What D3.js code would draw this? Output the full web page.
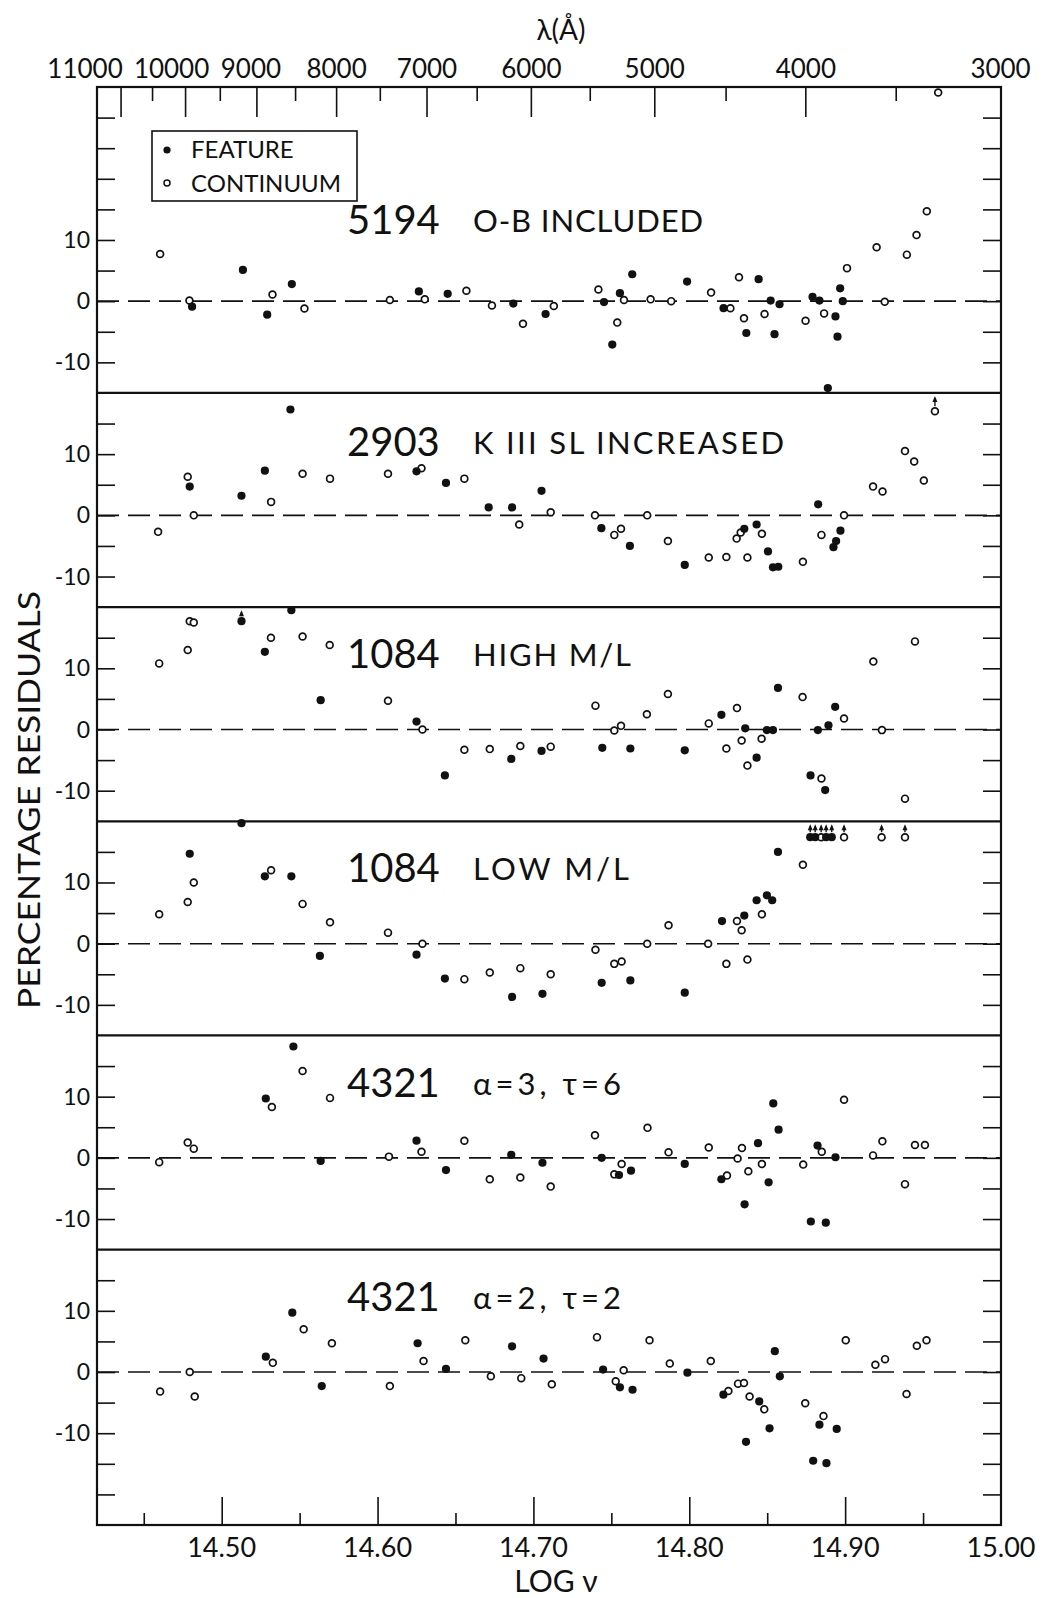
<!DOCTYPE html>
<html>
<head>
<meta charset="utf-8">
<script src="https://cdn.jsdelivr.net/npm/d3@7"></script>
<style>
  body { margin: 0; background: #fff; }
  svg text { font-family: "Lato", "Open Sans", "DejaVu Sans", sans-serif; fill: #111; }
</style>
</head>
<body>
<svg id="chart" width="1044" height="1598"></svg>
<script>
// Percentage residuals of the model fits, [log nu, residual %]
const feature5194 = [[14.481,-0.9],[14.5136,5.1],[14.5292,-2.2],[14.545,2.8],[14.6265,1.6],[14.645,1.2],[14.6871,-0.4],[14.7078,-2.1],
  [14.7453,-0.15],[14.7555,1.3],[14.7506,-7.1],[14.7634,4.4],[14.7986,3.2],[14.822,-1.15],[14.8366,-5.2],[14.8445,3.6],[14.8522,0.1],
  [14.8547,-5.4],[14.8579,-0.5],[14.8791,0.7],[14.8835,0.1],[14.8889,-14.2],[14.8938,-2.5],[14.8951,-5.8],[14.8968,2.1],[14.8985,0]];
const continuum5194 = [[14.4605,7.7],[14.4793,0.1],[14.5326,1.1],[14.5531,-1.2],[14.6079,0.2],[14.6303,0.3],[14.657,1.7],[14.6734,-0.7],
  [14.6933,-3.7],[14.7131,-0.8],[14.7417,1.9],[14.7581,0.2],[14.7538,-3.5],[14.7752,0.3],[14.7884,0],[14.814,1.4],[14.8264,-1.15],
  [14.8319,3.9],[14.8351,-2.8],[14.8483,-2.1],[14.8746,-3.2],[14.8865,-2.0],[14.9012,5.4],[14.9202,8.8],[14.9254,-0.1],[14.9396,7.6],
  [14.9458,10.8],[14.9524,14.7],[14.9597,34.1]];

const feature2903 = [[14.4795,4.7],[14.5127,3.2],[14.5277,7.3],[14.5441,17.3],[14.625,7.2],[14.6439,5.3],[14.6713,1.3],[14.6863,1.3],
  [14.7052,4.0],[14.7436,-2.1],[14.7619,-5.0],[14.7971,-8.1],[14.8353,-2.2],[14.8432,-1.5],[14.8505,-5.9],[14.8537,-8.5],[14.8571,-8.4],
  [14.8827,1.8],[14.8925,-5.2],[14.8942,-4.2],[14.897,-2.5]];
const continuum2903 = [[14.4592,-2.7],[14.4782,6.3],[14.4821,0],[14.5317,2.2],[14.5519,6.8],[14.5695,6.0],[14.6067,6.8],[14.6282,7.7],
  [14.6557,6.0],[14.6909,-1.5],[14.7111,0.5],[14.7395,0],[14.7519,-3.2],[14.7562,-2.2],[14.773,0],[14.7863,-4.2],[14.8125,-6.9],
  [14.8238,-6.8],[14.8304,-3.8],[14.833,-2.8],[14.8373,-6.9],[14.8466,-3.0],[14.8729,-7.6],[14.8848,-3.2],[14.8993,0],[14.9179,4.7],
  [14.924,3.9],[14.9384,10.5],[14.9443,8.8],[14.9505,5.7],[14.9576,17.0]];
const arrows2903 = [[14.9576,17.0]];

const featureHigh1084 = [[14.5127,17.7],[14.5277,12.7],[14.5447,19.5],[14.5635,4.8],[14.625,1.3],[14.6432,-7.5],[14.6858,-4.8],[14.7052,-3.5],
  [14.7442,-3.0],[14.7622,-3.1],[14.7971,-3.4],[14.8206,2.4],[14.8359,0.2],[14.8432,-4.6],[14.8498,-0.1],[14.8537,-0.1],[14.8569,6.8],
  [14.8778,-7.5],[14.8825,-0.1],[14.8872,-9.9],[14.8893,0.7],[14.8936,3.7]];
const continuumHigh1084 = [[14.4599,10.8],[14.4782,13.0],[14.4795,17.7],[14.4821,17.5],[14.5316,15.0],[14.5519,15.2],[14.5693,13.8],
  [14.6067,4.7],[14.6288,0],[14.6557,-3.3],[14.672,-3.2],[14.6916,-2.7],[14.7111,-2.8],[14.7398,3.9],[14.7519,-0.15],[14.7562,0.6],
  [14.7728,2.5],[14.7863,5.8],[14.8125,1.0],[14.8238,-3.1],[14.8306,3.5],[14.8336,-1.8],[14.8373,-5.9],[14.8464,-1.5],[14.8727,5.3],
  [14.8848,-8.0],[14.8993,1.8],[14.9181,11.1],[14.9236,-0.1],[14.9384,-11.3],[14.9448,14.4]];
const arrowsHigh1084 = [[14.5127,17.7]];

const featureLow1084 = [[14.4795,14.7],[14.5127,19.7],[14.5277,11.0],[14.5447,11.0],[14.563,-2.0],[14.625,-1.8],[14.6432,-5.7],[14.6863,-8.7],
  [14.7058,-8.2],[14.7438,-6.4],[14.7622,-6.0],[14.7971,-8.0],[14.821,3.7],[14.8353,4.6],[14.8432,7.1],[14.8498,7.9],[14.8532,7.1],
  [14.8569,15.0],[14.8776,17.4],[14.8808,17.4],[14.8878,17.4],[14.8914,17.4]];
const continuumLow1084 = [[14.4599,4.8],[14.4782,6.8],[14.4821,10.0],[14.5317,12.0],[14.5519,6.5],[14.5695,3.5],[14.6067,1.8],[14.6288,0],
  [14.6557,-5.8],[14.672,-4.7],[14.6916,-4.0],[14.7111,-5.0],[14.7398,-1.0],[14.7519,-3.3],[14.7566,-2.9],[14.773,0],[14.7867,3.0],
  [14.8121,0],[14.8238,-3.3],[14.8306,3.7],[14.8336,2.2],[14.8373,-2.6],[14.8466,4.8],[14.8729,12.9],[14.8846,17.4],[14.8993,17.4],
  [14.9234,17.4],[14.9384,17.4]];
const arrowsLow1084 = [[14.8776,17.4],[14.8808,17.4],[14.8846,17.4],[14.8878,17.4],[14.8914,17.4],[14.8993,17.4],[14.9234,17.4],[14.9384,17.4]];

const feature4321a = [[14.5283,9.7],[14.546,18.2],[14.5635,-0.5],[14.625,2.8],[14.6439,-2.0],[14.6858,0.5],[14.7058,-0.8],
  [14.7438,0],[14.7549,-2.8],[14.7626,-2.1],[14.7971,-1.0],[14.8206,-3.5],[14.8355,-7.6],[14.8441,2.4],[14.8509,-4.0],[14.8539,8.9],
  [14.8573,4.6],[14.878,-10.4],[14.8823,2.0],[14.8876,-10.6],[14.8938,0.1]];
const continuum4321a = [[14.4599,-0.7],[14.4782,2.5],[14.4821,1.5],[14.5322,8.3],[14.5519,14.2],[14.5695,9.8],[14.6073,0.2],[14.6282,1.0],
  [14.6557,2.8],[14.672,-3.5],[14.6916,-3.2],[14.7111,-4.7],[14.7395,3.7],[14.7519,-2.7],[14.7566,-1.0],[14.7732,4.9],[14.7867,0.9],
  [14.8125,1.7],[14.8242,-2.9],[14.831,-0.1],[14.8338,1.6],[14.8379,-2.2],[14.8466,-1.0],[14.8731,-1.1],[14.885,1.0],[14.8993,9.5],
  [14.9179,0.4],[14.9239,2.7],[14.9384,-4.3],[14.9448,2.1],[14.9512,2.1]];

const feature4321b = [[14.5283,2.5],[14.5453,9.7],[14.5642,-2.3],[14.6257,4.7],[14.6439,0.5],[14.6863,4.2],[14.7065,2.2],
  [14.7447,0.4],[14.7555,-2.5],[14.7636,-2.9],[14.7988,-0.1],[14.8219,-3.7],[14.8364,-11.4],[14.8449,-4.8],[14.8515,-9.2],[14.8549,3.4],
  [14.8581,-0.7],[14.8795,-14.5],[14.8835,-8.6],[14.888,-14.9],[14.8946,-9.3]];
const continuum4321b = [[14.4605,-3.2],[14.4795,0],[14.4827,-4.0],[14.5328,1.5],[14.5526,7.0],[14.5707,4.7],[14.6079,-2.3],[14.6295,1.8],
  [14.6563,5.2],[14.6727,-0.7],[14.6922,-1.0],[14.7118,-2.0],[14.7408,5.7],[14.7528,-1.5],[14.7579,0.3],[14.7745,5.2],[14.7875,1.4],
  [14.8138,1.8],[14.8251,-3.1],[14.8313,-1.9],[14.8351,-1.8],[14.8387,-4.0],[14.8481,-6.1],[14.8744,-5.1],[14.8861,-7.2],[14.9004,5.2],
  [14.9194,1.2],[14.9256,2.1],[14.9394,-3.6],[14.946,4.3],[14.9522,5.2]];

// Axis ticks
const logNuTicks = [14.50, 14.60, 14.70, 14.80, 14.90, 15.00];
const logNuMinorTicks = [14.45, 14.55, 14.65, 14.75, 14.85, 14.95];
const lambdaTicks = [11000, 10000, 9000, 8000, 7000, 6000, 5000, 4000, 3000];
const lambdaMinorTicks = [10500, 9500, 8500, 7500, 6500, 5500, 4500, 3500];
const residualLabels = [10, 0, -10];

const panels = [
  { id: "5194", note: "O-B INCLUDED", domain: [-15, 35], feature: feature5194, continuum: continuum5194, arrows: [], titleAt: 11 },
  { id: "2903", note: "K III SL INCREASED", domain: [-15, 20], feature: feature2903, continuum: continuum2903, arrows: arrows2903, titleAt: 9.7 },
  { id: "1084", note: "HIGH M/L", domain: [-15, 20], feature: featureHigh1084, continuum: continuumHigh1084, arrows: arrowsHigh1084, titleAt: 10 },
  { id: "1084", note: "LOW M/L", domain: [-15, 20], feature: featureLow1084, continuum: continuumLow1084, arrows: arrowsLow1084, titleAt: 10 },
  { id: "4321", note: "\u03b1=3, \u03c4=6", domain: [-15, 20], feature: feature4321a, continuum: continuum4321a, arrows: [], titleAt: 10 },
  { id: "4321", note: "\u03b1=2, \u03c4=2", domain: [-25, 20], feature: feature4321b, continuum: continuum4321b, arrows: [], titleAt: 10 }
];

(function draw() {
  const svg = d3.select("#chart");
  const plotLeft = 97, plotRight = 1001, plotTop = 87, plotBottom = 1525;
  const x = d3.scaleLinear().domain([14.42, 15.00]).range([plotLeft, plotRight]);
  const LOG_C = Math.log10(2.998e18); // speed of light in Angstrom/s
  const xLambda = l => x(LOG_C - Math.log10(l));

  const totalUnits = d3.sum(panels, p => p.domain[1] - p.domain[0]);
  const pxPerUnit = (plotBottom - plotTop) / totalUnits;

  // widths of the panel captions, so the lettering spreads as drawn
  const noteWidth = [230, 311, 158, 156, 148, 148];

  const ink = "#111";
  let y0 = plotTop;
  panels.forEach((p, i) => {
    const h = (p.domain[1] - p.domain[0]) * pxPerUnit;
    const y = d3.scaleLinear().domain(p.domain).range([y0 + h, y0]);
    const g = svg.append("g");

    // zero reference line
    g.append("line")
      .attr("x1", plotLeft).attr("x2", plotRight)
      .attr("y1", y(0)).attr("y2", y(0))
      .attr("stroke", ink).attr("stroke-width", 1.6)
      .attr("stroke-dasharray", "22 9");

    // residual ticks every 5 %, on both sides
    const ticks = d3.range(Math.ceil(p.domain[0] / 5) * 5, p.domain[1] + 0.1, 5)
      .filter(v => v > p.domain[0] && v < p.domain[1]);
    const leftAxis = d3.axisRight(y).tickValues(ticks).tickSize(18).tickFormat("");
    const rightAxis = d3.axisLeft(y).tickValues(ticks).tickSize(18).tickFormat("");
    g.append("g").attr("transform", `translate(${plotLeft},0)`).call(leftAxis)
      .call(s => s.select(".domain").remove())
      .call(s => s.selectAll("line").attr("stroke", ink).attr("stroke-width", 1.6));
    g.append("g").attr("transform", `translate(${plotRight},0)`).call(rightAxis)
      .call(s => s.select(".domain").remove())
      .call(s => s.selectAll("line").attr("stroke", ink).attr("stroke-width", 1.6));

    // tick labels
    g.selectAll("text.ylab").data(residualLabels).join("text")
      .attr("class", "ylab")
      .attr("x", 90).attr("y", d => y(d) + 8)
      .attr("text-anchor", "end")
      .style("font-size", "23px")
      .text(d => d < 0 ? "-" + Math.abs(d) : d);

    // panel title
    const ty = y(p.titleAt);
    g.append("text").attr("x", 347).attr("y", ty)
      .style("font-size", "40px").text(p.id);
    g.append("text").attr("x", 473).attr("y", ty - 2)
      .style("font-size", "31px")
      .attr("textLength", noteWidth[i]).attr("lengthAdjust", "spacing")
      .text(p.note);

    // arrows for points beyond the plotted range
    p.arrows.forEach(a => {
      const ax = x(a[0]), ay = y(a[1]) - 5;
      const ytop = y0 + 3;
      g.append("line").attr("x1", ax).attr("x2", ax).attr("y1", ay).attr("y2", ytop + 2)
        .attr("stroke", ink).attr("stroke-width", 1.4);
      g.append("path").attr("d", `M${ax - 2.5},${ytop + 6}L${ax},${ytop}L${ax + 2.5},${ytop + 6}Z`)
        .attr("fill", ink);
    });

    // markers
    g.selectAll("circle.cont").data(p.continuum).join("circle")
      .attr("class", "cont")
      .attr("cx", d => x(d[0])).attr("cy", d => y(d[1])).attr("r", 3.4)
      .attr("fill", "#fff").attr("stroke", ink).attr("stroke-width", 1.7);
    g.selectAll("circle.feat").data(p.feature).join("circle")
      .attr("class", "feat")
      .attr("cx", d => x(d[0])).attr("cy", d => y(d[1])).attr("r", 4.1)
      .attr("fill", ink);

    // divider below each panel
    if (i < panels.length - 1) {
      g.append("line").attr("x1", plotLeft).attr("x2", plotRight)
        .attr("y1", y0 + h).attr("y2", y0 + h)
        .attr("stroke", ink).attr("stroke-width", 2.2);
    }
    y0 += h;
  });

  // frame
  svg.append("rect").attr("x", plotLeft).attr("y", plotTop)
    .attr("width", plotRight - plotLeft).attr("height", plotBottom - plotTop)
    .attr("fill", "none").attr("stroke", ink).attr("stroke-width", 2.2);

  // bottom axis (log nu)
  svg.append("g").attr("transform", `translate(0,${plotBottom})`)
    .call(d3.axisTop(x).tickValues(logNuTicks.filter(v => v < 15)).tickSize(28).tickFormat(""))
    .call(s => s.select(".domain").remove())
    .call(s => s.selectAll("line").attr("stroke", ink).attr("stroke-width", 1.6));
  svg.append("g").attr("transform", `translate(0,${plotBottom})`)
    .call(d3.axisTop(x).tickValues(logNuMinorTicks).tickSize(12).tickFormat(""))
    .call(s => s.select(".domain").remove())
    .call(s => s.selectAll("line").attr("stroke", ink).attr("stroke-width", 1.6));
  svg.selectAll("text.xlab").data(logNuTicks).join("text")
    .attr("class", "xlab")
    .attr("x", d => x(d)).attr("y", 1557)
    .attr("text-anchor", "middle").style("font-size", "27px")
    .text(d => d.toFixed(2));
  svg.append("text").attr("x", 556).attr("y", 1592).attr("text-anchor", "middle")
    .style("font-size", "30px").text("LOG \u03bd");

  // top axis (wavelength)
  svg.selectAll("line.lmaj").data(lambdaTicks.filter(l => l > 3000)).join("line")
    .attr("class", "lmaj")
    .attr("x1", d => xLambda(d)).attr("x2", d => xLambda(d))
    .attr("y1", plotTop).attr("y2", plotTop + 30)
    .attr("stroke", ink).attr("stroke-width", 1.6);
  svg.selectAll("line.lmin").data(lambdaMinorTicks).join("line")
    .attr("class", "lmin")
    .attr("x1", d => xLambda(d)).attr("x2", d => xLambda(d))
    .attr("y1", plotTop).attr("y2", plotTop + 14)
    .attr("stroke", ink).attr("stroke-width", 1.6);
  // crowded labels at the long-wavelength end are nudged left
  const labelShift = { 11000: -36, 10000: -14, 9000: -6, 8000: 0 };
  svg.selectAll("text.lab").data(lambdaTicks).join("text")
    .attr("class", "lab")
    .attr("x", d => xLambda(d) + (labelShift[d] || 0)).attr("y", 78)
    .attr("text-anchor", "middle").style("font-size", "26px")
    .text(d => d);
  svg.append("text").attr("x", 561).attr("y", 40).attr("text-anchor", "middle")
    .style("font-size", "28px").text("\u03bb(\u00c5)");

  // legend
  const lg = svg.append("g");
  lg.append("rect").attr("x", 152).attr("y", 131).attr("width", 205).attr("height", 70)
    .attr("fill", "#fff").attr("stroke", ink).attr("stroke-width", 1.6);
  lg.append("circle").attr("cx", 167).attr("cy", 150).attr("r", 3.6).attr("fill", ink);
  lg.append("circle").attr("cx", 167).attr("cy", 183).attr("r", 3).attr("fill", "#fff")
    .attr("stroke", ink).attr("stroke-width", 1.5);
  lg.append("text").attr("x", 191).attr("y", 158).style("font-size", "24px").text("FEATURE");
  lg.append("text").attr("x", 191).attr("y", 192).style("font-size", "24px").text("CONTINUUM");

  // y axis title
  svg.append("text")
    .attr("transform", "translate(40,800) rotate(-90)")
    .attr("text-anchor", "middle").style("font-size", "31px")
    .attr("textLength", 418).attr("lengthAdjust", "spacingAndGlyphs")
    .text("PERCENTAGE RESIDUALS");
})();
</script>
</body>
</html>
